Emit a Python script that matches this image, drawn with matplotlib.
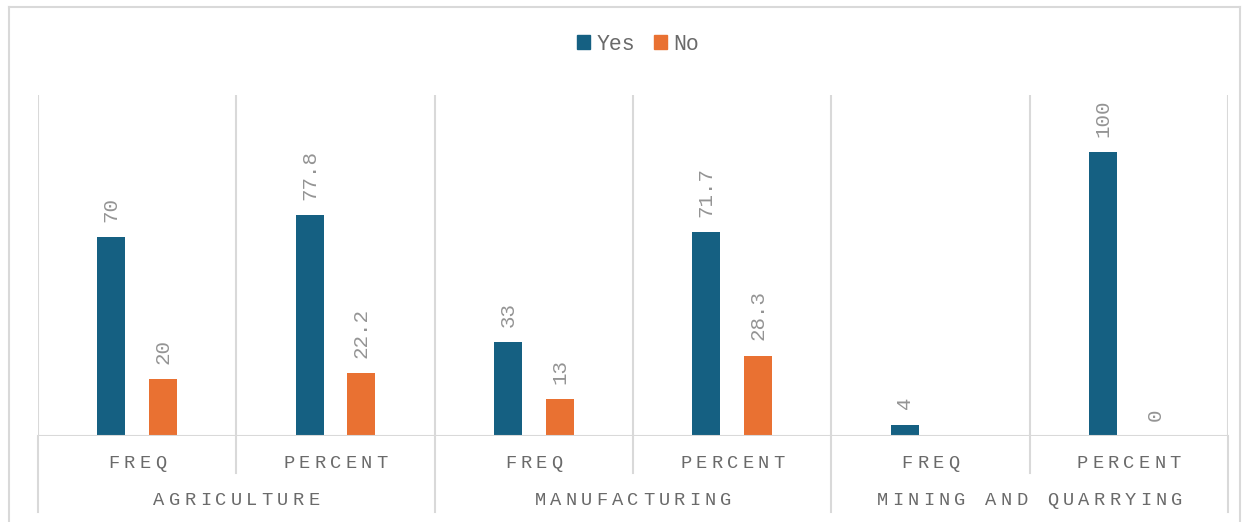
import numpy as np
import matplotlib
matplotlib.use("Agg")
import matplotlib.pyplot as plt
from matplotlib.patches import Patch
from matplotlib.lines import Line2D
from matplotlib.transforms import IdentityTransform

# survey results per sector, frequency and percent
sectors = ["AGRICULTURE", "MANUFACTURING", "MINING AND QUARRYING"]
measures = ["FREQ", "PERCENT"]
yes_vals = [70, 77.8, 33, 71.7, 4, 100]
no_vals = [20, 22.2, 13, 28.3, np.nan, 0]

BLUE = "#156082"
ORANGE = "#E97132"
GRID = "#d9d9d9"
TEXT = "#6a6a6a"
LABEL = "#949494"
FONT = "Liberation Mono"

plt.rcParams["font.family"] = FONT

fig = plt.figure(figsize=(12.46, 5.22), dpi=100)
W, H = 1246, 522
ax = fig.add_axes([38 / W, 1 - 436 / H, (1228 - 38) / W, (436 - 95) / H])

n = len(yes_vals)
centers = np.arange(n) + 0.5
off = 0.131
bw = 0.141

ax.bar(centers - off, yes_vals, width=bw, color=BLUE, zorder=3)
ax.bar(centers + off, np.nan_to_num(no_vals), width=bw, color=ORANGE, zorder=3)

for xs, vals in [(centers - off, yes_vals), (centers + off, no_vals)]:
    for x, v in zip(xs, vals):
        if np.isnan(v):
            continue
        ax.annotate(f"{v:g}", (x, v), xytext=(0, 11), textcoords="offset points",
                    rotation=90, ha="center", va="bottom", fontsize=15,
                    color=LABEL)

ax.set_xlim(0, n)
ax.set_ylim(0, 120)
ax.axis("off")

# category separators inside the plot area
for k in range(n + 1):
    ax.axvline(k, color=GRID, lw=1.5, zorder=1)
ax.axhline(0, color=GRID, lw=1.5, zorder=4)

# separators below the axis: long ones between sectors, short ones between measures
for k in range(n + 1):
    xf = ax.transData.transform((k, 0))[0] / W
    y_end = 512 if k % 2 == 0 else 473
    fig.add_artist(Line2D([xf, xf], [1 - 436 / H, 1 - y_end / H], color=GRID,
                          lw=1.5, transform=fig.transFigure))


def spaced_text(xc_px, y_px, s, pitch, size):
    # draw letter-spaced text one character at a time, in display pixels
    m = len(s)
    for j, ch in enumerate(s):
        if ch == " ":
            continue
        xp = xc_px + (j - (m - 1) / 2) * pitch
        fig.text(xp, y_px, ch, transform=IdentityTransform(), ha="center",
                 va="baseline", fontsize=size, color=TEXT)


for i in range(n):
    xc = ax.transData.transform((centers[i], 0))[0]
    spaced_text(xc, H - 468, measures[i % 2], 15.5, 13.5)
for g, name in enumerate(sectors):
    xc = ax.transData.transform((2 * g + 1, 0))[0]
    spaced_text(xc, H - 505, name, 15.5, 13.5)

# outer frame
for xs, ys in [([9, 9], [522, 7]), ([9, 1240], [7, 7]), ([1240, 1240], [7, 522])]:
    fig.add_artist(Line2D([x / W for x in xs], [1 - y / H for y in ys],
                          color=GRID, lw=1.5, transform=fig.transFigure))

handles = [Patch(color=BLUE, label="Yes"), Patch(color=ORANGE, label="No")]
fig.legend(handles=handles, loc="center", bbox_to_anchor=(638 / W, 1 - 44 / H),
           ncol=2, frameon=False, fontsize=15.5, handlelength=0.6,
           handleheight=0.6, handletextpad=0.3, columnspacing=0.9,
           labelcolor=TEXT)

fig.savefig("out.png", dpi=100)
